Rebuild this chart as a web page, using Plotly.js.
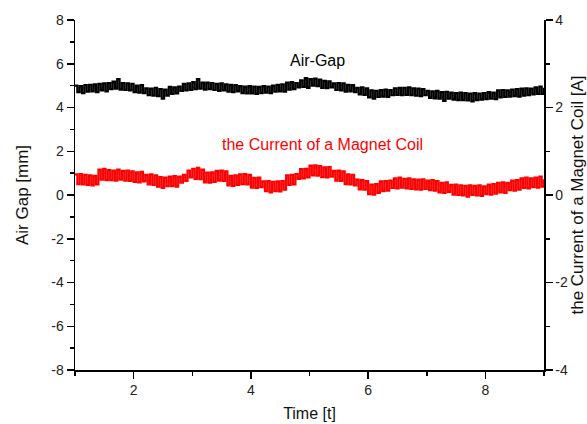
<!DOCTYPE html>
<html>
<head>
<meta charset="utf-8">
<script src="https://cdn.plot.ly/plotly-3.0.1.min.js"></script>
<style>html,body{margin:0;padding:0;background:#fff;}#chart{width:587px;height:424px;}</style>
</head>
<body>
<div id="chart"></div>
<script>
// Time axis sampling (t from 1 to 9)
var tStart = 1;
var tEnd = 9;

// Air gap [mm] (left axis)
var airGap = [
  5.00, 4.70, 4.98, 4.66, 5.02,  4.72, 5.04, 4.74, 5.06, 4.70,  5.08, 4.78, 5.10, 4.74, 5.12,  4.84, 5.18, 4.86, 5.30, 4.82,  5.12, 4.80, 5.10, 4.78, 5.08,
  4.70, 5.00, 4.68, 5.02, 4.66,  4.88, 4.56, 4.86, 4.54, 4.90,  4.52, 4.84, 4.40, 4.82, 4.54,  4.94, 4.62, 4.92, 4.64, 4.96,  4.76, 5.08, 4.78, 5.10, 4.80,
  5.16, 4.84, 5.30, 4.86, 5.14,  4.82, 5.14, 4.84, 5.12, 4.80,  5.08, 4.76, 5.10, 4.78, 5.06,  4.72, 5.04, 4.70, 5.02, 4.74,  4.98, 4.66, 4.96, 4.64, 4.98,
  4.64, 4.96, 4.62, 4.94, 4.66,  4.98, 4.68, 4.96, 4.66, 5.00,  4.72, 5.04, 4.74, 5.06, 4.72,  5.14, 4.82, 5.16, 4.84, 5.12,  4.92, 5.24, 4.94, 5.34, 4.90,
  5.30, 5.00, 5.32, 4.98, 5.28,  4.90, 5.22, 4.88, 5.20, 4.92,  5.10, 4.80, 5.12, 4.78, 5.10,  4.72, 5.04, 4.74, 5.02, 4.70,  4.90, 4.60, 4.92, 4.58, 4.88,
  4.46, 4.78, 4.40, 4.76, 4.48,  4.80, 4.50, 4.82, 4.48, 4.80,  4.56, 4.88, 4.58, 4.90, 4.56,  4.90, 4.58, 4.92, 4.56, 4.88,  4.54, 4.86, 4.52, 4.84, 4.56,
  4.76, 4.44, 4.74, 4.42, 4.76,  4.40, 4.70, 4.30, 4.72, 4.40,  4.68, 4.36, 4.66, 4.34, 4.68,  4.34, 4.66, 4.32, 4.64, 4.28,  4.66, 4.34, 4.64, 4.36, 4.66,
  4.38, 4.70, 4.40, 4.68, 4.38,  4.78, 4.46, 4.80, 4.48, 4.78,  4.50, 4.82, 4.52, 4.84, 4.50,  4.86, 4.54, 4.88, 4.56, 4.86,  4.60, 4.92, 4.62, 4.96, 4.62,
  4.90
];

// Current of the magnet coil [A] (right axis)
var coilCurrent = [
  0.47, 0.25, 0.48, 0.24, 0.46,  0.23, 0.45, 0.22, 0.44, 0.24,  0.58, 0.35, 0.60, 0.34, 0.57,  0.34, 0.56, 0.33, 0.58, 0.35,  0.55, 0.33, 0.56, 0.32, 0.54,
  0.30, 0.52, 0.29, 0.53, 0.31,  0.46, 0.24, 0.47, 0.23, 0.45,  0.19, 0.41, 0.16, 0.40, 0.20,  0.42, 0.20, 0.43, 0.19, 0.42,  0.28, 0.46, 0.32, 0.56, 0.40,
  0.60, 0.37, 0.62, 0.36, 0.58,  0.29, 0.51, 0.28, 0.52, 0.30,  0.55, 0.33, 0.56, 0.32, 0.54,  0.22, 0.44, 0.21, 0.45, 0.23,  0.47, 0.25, 0.48, 0.24, 0.46,
  0.17, 0.39, 0.16, 0.40, 0.18,  0.31, 0.09, 0.32, 0.06, 0.30,  0.09, 0.31, 0.08, 0.32, 0.12,  0.45, 0.23, 0.46, 0.24, 0.48,  0.37, 0.59, 0.38, 0.60, 0.40,
  0.67, 0.45, 0.68, 0.44, 0.66,  0.41, 0.63, 0.40, 0.64, 0.42,  0.55, 0.33, 0.56, 0.32, 0.54,  0.25, 0.47, 0.24, 0.46, 0.22,  0.35, 0.13, 0.34, 0.12, 0.32,
  0.02, 0.24, 0.01, 0.25, 0.05,  0.31, 0.09, 0.32, 0.10, 0.33,  0.16, 0.38, 0.15, 0.40, 0.17,  0.37, 0.15, 0.38, 0.14, 0.36,  0.13, 0.35, 0.12, 0.36, 0.14,
  0.33, 0.11, 0.34, 0.10, 0.32,  0.06, 0.28, 0.05, 0.29, 0.07,  0.23, 0.01, 0.24, 0.00, 0.22,  -0.01, 0.21, -0.04, 0.22, 0.00,  0.21, -0.01, 0.22, -0.02, 0.20,
  0.02, 0.24, 0.01, 0.25, 0.03,  0.28, 0.06, 0.29, 0.05, 0.28,  0.11, 0.33, 0.10, 0.34, 0.12,  0.38, 0.16, 0.40, 0.15, 0.38,  0.18, 0.40, 0.17, 0.42, 0.19,
  0.36
];

var xTicks = [2, 4, 6, 8];
var xTickLabels = ["2", "4", "6", "8"];
var yLeftTicks = [-8, -6, -4, -2, 0, 2, 4, 6, 8];
var yLeftTickLabels = ["-8", "-6", "-4", "-2", "0", "2", "4", "6", "8"];
var yRightTicks = [-4, -2, 0, 2, 4];
var yRightTickLabels = ["-4", "-2", "0", "2", "4"];

var labelAirGap = "Air-Gap";
var labelCurrent = "the Current of a Magnet Coil";

var FONT = "Liberation Sans, Arial, sans-serif";

var traces = [
  {
    type: "scatter", mode: "lines", name: labelAirGap,
    y: airGap, x0: tStart, dx: (tEnd - tStart) / (airGap.length - 1),
    line: {color: "#000000", width: 2.2, shape: "hv"},
    yaxis: "y"
  },
  {
    type: "scatter", mode: "lines", name: labelCurrent,
    y: coilCurrent, x0: tStart, dx: (tEnd - tStart) / (coilCurrent.length - 1),
    line: {color: "#ff0000", width: 2.2, shape: "hv"},
    yaxis: "y2"
  }
];

var axisCommon = {
  showgrid: false, zeroline: false, showline: true,
  linecolor: "#000", linewidth: 1.5,
  ticks: "outside", ticklen: 7, tickwidth: 1.5, tickcolor: "#000",
  tickfont: {family: FONT, size: 14, color: "#222"},
  minor: {ticks: "outside", ticklen: 4, tickwidth: 1.5, tickcolor: "#000", dtick: 1}
};

var layout = {
  width: 587, height: 424,
  margin: {l: 75, r: 43, t: 20, b: 54},
  paper_bgcolor: "#fff", plot_bgcolor: "#fff",
  showlegend: false,
  xaxis: Object.assign({}, axisCommon, {
    range: [tStart, tEnd], tickmode: "array", tickvals: xTicks, ticktext: xTickLabels,
    title: {text: "Time [t]", font: {family: FONT, size: 16, color: "#111"}, standoff: 10}
  }),
  yaxis: Object.assign({}, axisCommon, {
    range: [-8, 8], tickmode: "array", tickvals: yLeftTicks, ticktext: yLeftTickLabels,
    title: {text: "Air Gap [mm]", font: {family: FONT, size: 17, color: "#111"}, standoff: 18}
  }),
  yaxis2: Object.assign({}, axisCommon, {
    overlaying: "y", side: "right",
    range: [-4, 4], tickmode: "array", tickvals: yRightTicks, ticktext: yRightTickLabels,
    title: {text: "the Current of a Magnet Coil [A]", font: {family: FONT, size: 17, color: "#111"}, standoff: 12}
  }),
  annotations: [
    {x: 5.14, y: 6.17, xref: "x", yref: "y", text: labelAirGap, showarrow: false,
     font: {family: FONT, size: 16, color: "#000"}},
    {x: 5.22, y: 2.29, xref: "x", yref: "y", text: labelCurrent, showarrow: false,
     font: {family: FONT, size: 16, color: "#ff0000"}}
  ]
};

Plotly.newPlot("chart", traces, layout, {displayModeBar: false, staticPlot: true});
</script>
</body>
</html>
